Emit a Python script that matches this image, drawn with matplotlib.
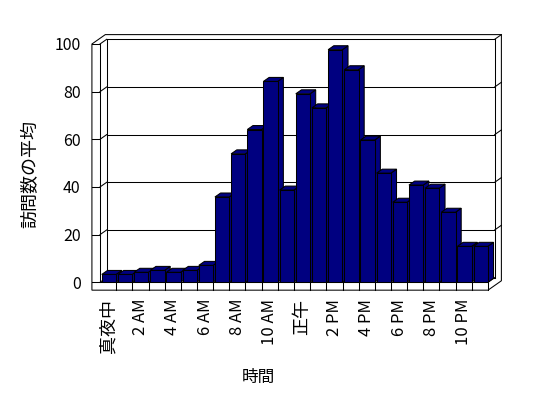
import matplotlib
matplotlib.use("Agg")
import matplotlib.pyplot as plt
from matplotlib.patches import Polygon

plt.rcParams['font.family'] = ['Noto Sans CJK JP', 'DejaVu Sans']

# data
hours = ['真夜中', '', '2 AM', '', '4 AM', '', '6 AM', '', '8 AM', '', '10 AM', '',
         '正午', '', '2 PM', '', '4 PM', '', '6 PM', '', '8 PM', '', '10 PM', '']
visits = [3.3, 3.3, 4.2, 5.0, 4.2, 5.0, 7.1, 35.8, 53.9, 64.1, 84.3, 38.7,
          79.1, 73.2, 97.6, 89.2, 59.7, 45.8, 33.6, 40.8, 39.5, 29.4, 15.1, 15.1]
yticks = [0, 20, 40, 60, 80, 100]

n = len(visits)
top = yticks[-1]

# 3d look (in data units)
DX, DY = 0.414, 1.97      # depth of floor / wall
FT = 3.3                  # floor thickness
WT = 0.5                  # left wall thickness
bar_w = 0.88
bar_off = 0.11
bdx, bdy = 0.85 * DX, 0.85 * DY
lw = 0.75
navy = '#000080'

fig = plt.figure(figsize=(5.48, 3.98), dpi=100)
ax = fig.add_axes([100 / 548, (398 - 282.3) / 398, 388 / 548, 238.3 / 398])
ax.set_xlim(0, n)
ax.set_ylim(0, top)
for s in ax.spines.values():
    s.set_visible(False)


def line(xs, ys, z=2):
    ax.plot(xs, ys, color='black', lw=lw, clip_on=False, zorder=z,
            solid_capstyle='projecting')


# outer box
outer = [(-WT, -FT), (-WT, top), (-WT + 2 * DX, top + 2 * DY), (n + 2 * DX, top + 2 * DY),
         (n + 2 * DX, -FT + 2 * DY), (n, -FT)]
ax.add_patch(Polygon(outer, closed=True, facecolor='white', edgecolor='black',
                     lw=lw, clip_on=False, zorder=1))

# left wall
line([0, 0], [0, top])
line([-WT, 0], [top, top])
line([0, DX], [top, top + DY])
line([0, DX], [0, DY])
# back wall inner face
line([DX, DX], [DY, top + DY])
line([DX, n + DX], [top + DY, top + DY])
line([n + DX, n + DX], [DY, top + DY])
line([n + DX, n + 2 * DX], [top + DY, top + 2 * DY])
line([DX, n + DX], [DY, DY])
# floor
line([-WT, n], [0, 0])
line([n, n], [-FT, 0])
line([n, n + DX], [0, DY])
for k in range(1, n):
    line([k, k], [-FT, 0])

# gridlines
for v in yticks[1:-1]:
    line([-WT, 0], [v, v])
    line([0, DX], [v, v + DY])
    line([DX, n + DX], [v + DY, v + DY])
    line([n + DX, n + 2 * DX], [v + DY, v + 2 * DY])

# bars
for i, v in enumerate(visits):
    L = i + bar_off
    R = L + bar_w
    z = 3 + i * 0.01
    side = [(R, 0), (R, v), (R + bdx, v + bdy), (R + bdx, bdy)]
    topf = [(L, v), (R, v), (R + bdx, v + bdy), (L + bdx, v + bdy)]
    for poly in (side, topf):
        ax.add_patch(Polygon(poly, closed=True, facecolor=navy, edgecolor='black',
                             lw=lw, clip_on=False, zorder=z))
    ax.bar(L, v, width=bar_w, align='edge', color=navy, edgecolor='black',
           lw=lw, clip_on=False, zorder=z + 0.005)

ax.set_yticks(yticks)
ax.set_yticklabels([str(t) for t in yticks], fontsize=11.5)
ax.set_xticks([i + 0.5 for i in range(n)])
ax.set_xticklabels(hours, rotation=90, fontsize=12)
for lab in ax.get_xticklabels():
    if not lab.get_text().endswith('M'):
        lab.set_fontsize(13)
ax.tick_params(axis='y', length=0, pad=14)
ax.tick_params(axis='x', length=0, pad=12)

fig.text(30 / 548, 1 - 174 / 398, '訪問数の平均', rotation=90, ha='center', va='center',
         fontsize=13)
fig.text(258.5 / 548, 1 - 377 / 398, '時間', ha='center', va='center', fontsize=12)

fig.savefig('out.png', dpi=100)
